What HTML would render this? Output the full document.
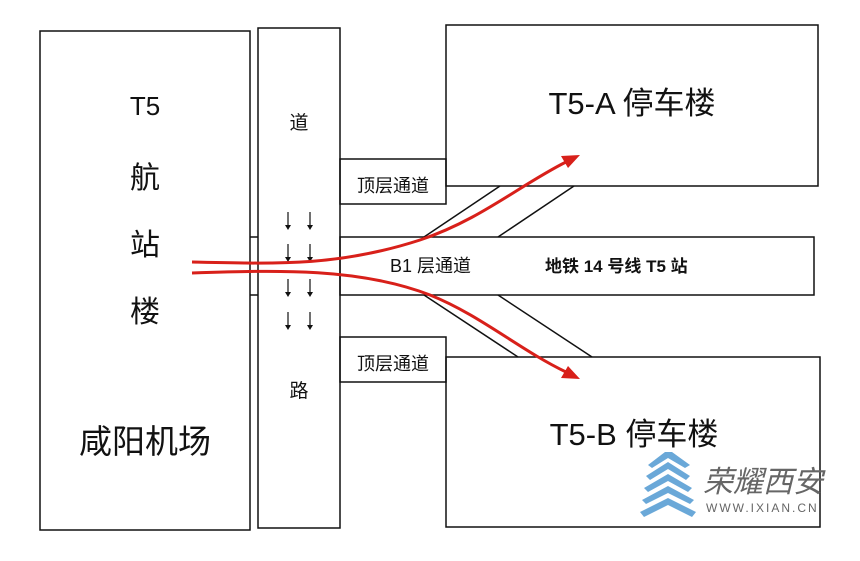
<!DOCTYPE html>
<html><head><meta charset="utf-8"><style>
body{margin:0;background:#fff;width:860px;height:556px;overflow:hidden}
svg text{font-family:"Liberation Sans","Noto Sans CJK SC",sans-serif;fill:#111}
</style></head><body>
<svg width="860" height="556" viewBox="0 0 860 556" xmlns="http://www.w3.org/2000/svg">
<g fill="none" stroke="#111" stroke-width="1.5">
<rect x="40" y="31" width="210" height="499"/>
<rect x="258" y="28" width="82" height="500"/>
<rect x="446" y="25" width="372" height="161"/>
<rect x="446" y="357" width="374" height="170"/>
<rect x="340" y="237" width="474" height="58"/>
<rect x="340" y="159" width="106" height="45"/>
<rect x="340" y="337" width="106" height="45"/>
<line x1="250" y1="237" x2="258" y2="237"/>
<line x1="250" y1="295" x2="258" y2="295"/>
<line x1="424" y1="237" x2="500" y2="186"/>
<line x1="498" y1="237" x2="574" y2="186"/>
<line x1="424" y1="295" x2="518" y2="357"/>
<line x1="498" y1="295" x2="592" y2="357"/>
</g>
<g stroke="#111" stroke-width="1.2">
<line x1="288" y1="212" x2="288" y2="226"/><line x1="310" y1="212" x2="310" y2="226"/>
<line x1="288" y1="244" x2="288" y2="258"/><line x1="310" y1="244" x2="310" y2="258"/>
<line x1="288" y1="279" x2="288" y2="293"/><line x1="310" y1="279" x2="310" y2="293"/>
<line x1="288" y1="312" x2="288" y2="326"/><line x1="310" y1="312" x2="310" y2="326"/>
</g>
<g fill="#111">
<path d="M285,225 L291,225 L288,230Z"/><path d="M307,225 L313,225 L310,230Z"/>
<path d="M285,257 L291,257 L288,262Z"/><path d="M307,257 L313,257 L310,262Z"/>
<path d="M285,292 L291,292 L288,297Z"/><path d="M307,292 L313,292 L310,297Z"/>
<path d="M285,325 L291,325 L288,330Z"/><path d="M307,325 L313,325 L310,330Z"/>
</g>
<g fill="none" stroke="#d8201a" stroke-width="3">
<path d="M192,262 C280,264 340,266 420,240 C480,220 520,185 566,162"/>
<path d="M192,273 C280,270 360,268 430,295 C480,315 520,350 566,372"/>
</g>
<path d="M580,155 L561,156 L568,168Z" fill="#d8201a"/>
<path d="M580,379 L568,366 L561,378Z" fill="#d8201a"/>
<text x="145" y="115" font-size="26" text-anchor="middle">T5</text>
<text x="145" y="188" font-size="30" text-anchor="middle">航</text>
<text x="145" y="255" font-size="30" text-anchor="middle">站</text>
<text x="145" y="322" font-size="30" text-anchor="middle">楼</text>
<text x="145" y="453" font-size="33" text-anchor="middle">咸阳机场</text>
<text x="299" y="129" font-size="19" text-anchor="middle">道</text>
<text x="299" y="397" font-size="19" text-anchor="middle">路</text>
<text x="393" y="192" font-size="18" text-anchor="middle">顶层通道</text>
<text x="393" y="370" font-size="18" text-anchor="middle">顶层通道</text>
<text x="632" y="114" font-size="31" text-anchor="middle">T5-A 停车楼</text>
<text x="634" y="445" font-size="31" text-anchor="middle">T5-B 停车楼</text>
<text x="390" y="272" font-size="18">B1 层通道</text>
<text x="545" y="272" font-size="17" font-weight="bold">地铁 14 号线 T5 站</text>
<g fill="#6aa8d8">
<path d="M665,452 L672,452 L690,465 L685,468 L668,458 L652,468 L648,465Z"/>
<path d="M668,462 L690,476 L686,480 L668,469 L650,480 L646,476Z"/>
<path d="M668,474 L692,488 L688,492 L668,481 L648,492 L644,488Z"/>
<path d="M668,486 L694,500 L690,504 L668,493 L646,504 L642,500Z"/>
<path d="M668,498 L696,512 L692,517 L668,505 L644,517 L640,512Z"/>
</g>
<text x="703" y="492" font-size="30" font-style="italic" style="fill:#666">荣耀西安</text>
<text x="706" y="512" font-size="12" letter-spacing="2" style="fill:#666">WWW.IXIAN.CN</text>
</svg>
</body></html>
